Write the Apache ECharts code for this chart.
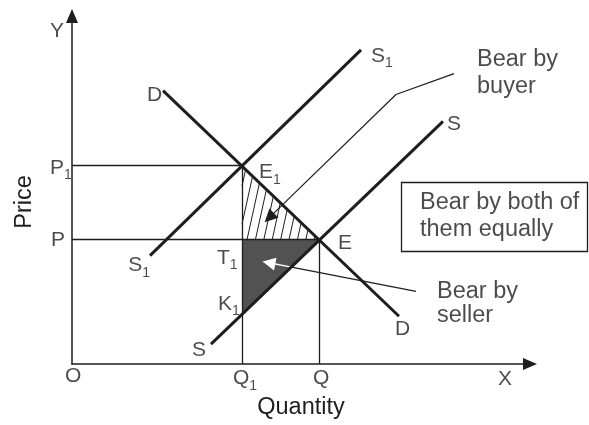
<!DOCTYPE html>
<html>
<head>
<meta charset="utf-8">
<script src="https://cdn.jsdelivr.net/npm/echarts@6/dist/echarts.min.js"></script>
<style>
html, body { margin: 0; padding: 0; background: #fff; }
#main { width: 589px; height: 425px; }
</style>
</head>
<body>
<div id="main"></div>
<script>
// key points (quantity, price)
var ptE1 = [17, 20];
var ptT1 = [17, 12.5];
var ptE = [24.7, 12.5];
var ptK1 = [17, 5.0];

// curves
var curveD = [[9.1, 27.5], [32.7, 4.8]];
var curveS = [[13.9, 2.0], [37.1, 24.4]];
var curveS1 = [[7.8, 10.9], [28.9, 31.6]];

// guides to the axes: P1, P, Q1, Q
var guideLines = [
  [[0, 20], [17, 20]],
  [[0, 12.5], [24.7, 12.5]],
  [[17, 0], [17, 20]],
  [[24.7, 0], [24.7, 12.5]]
];

// leader lines of the notes
var leaderPlain = [
  [[38.2, 29.2], [32.4, 27.1]],
  [[34.4, 7.3], [21.95, 9.74]]
];
var leaderBlackArrow = [[[32.4, 27.1], [19.73, 14.72]]];
var leaderWhiteArrow = [[[21.95, 9.74], [19.69, 10.18]]];

// point names: [x, y, text]
var pointNames = [
  [-2.2, 33.5, '{m|Y}'],
  [7.5, 27.0, '{m|D}'],
  [-2.2, 19.7, '{m|P}{s|1}'],
  [18.7, 19.25, '{m|E}{s|1}'],
  [29.9, 31.0, '{m|S}{s|1}'],
  [37.5, 24.15, '{m|S}'],
  [-2.1, 12.5, '{m|P}'],
  [5.63, 9.9, '{m|S}{s|1}'],
  [14.5, 10.65, '{m|T}{s|1}'],
  [14.6, 6.05, '{m|K}{s|1}'],
  [12.0, 1.35, '{m|S}'],
  [-0.7, -1.25, '{m|O}'],
  [16.1, -1.45, '{m|Q}{s|1}'],
  [24.1, -1.45, '{m|Q}'],
  [42.6, -1.5, '{m|X}'],
  [26.6, 12.1, '{m|E}'],
  [32.3, 3.45, '{m|D}']
];

// notes: [x, y, text]
var noteBuyer = [40.5, 31.95, 'Bear by\nbuyer'];
var noteSeller = [36.5, 8.45, 'Bear by\nseller'];
var noteBoth = [34.8, 17.55, 'Bear by both of\nthem equally'];
// frame of the "both" note: [x0, yTop, x1, yBottom]
var noteBothBox = [32.85, 18.3, 51.5, 11.4];

var FONT = '"Liberation Sans", Arial, Helvetica, sans-serif';
var INK = '#1e1e1e';

function toLines(arr) {
  return arr.map(function (c) { return { coords: c }; });
}

function renderHatch(params, api) {
  var a = api.coord([api.value(0), api.value(1)]);
  var b = api.coord([api.value(2), api.value(3)]);
  var c = api.coord([api.value(4), api.value(5)]);
  var H = b[1] - a[1];
  var k = 0.22, step = 8.4;
  var slope = (c[0] - a[0]) / H;
  var children = [];
  var start = b[0] + 5 - step * Math.ceil((k * H + 5) / step);
  for (var x0 = start; x0 < c[0]; x0 += step) {
    var hLow = x0 >= b[0] ? 0 : (b[0] - x0) / k;
    var hUp = (c[0] - x0) / (k + slope);
    if (hUp <= hLow + 1) continue;
    children.push({
      type: 'line',
      shape: { x1: x0 + k * hLow, y1: b[1] - hLow, x2: x0 + k * hUp, y2: b[1] - hUp },
      style: { stroke: INK, lineWidth: 1 }
    });
  }
  return { type: 'group', children: children };
}

function renderDark(params, api) {
  return {
    type: 'polygon',
    shape: { points: [
      api.coord([api.value(0), api.value(1)]),
      api.coord([api.value(2), api.value(3)]),
      api.coord([api.value(4), api.value(5)])
    ] },
    style: { fill: '#525252' }
  };
}

function renderBox(params, api) {
  var p0 = api.coord([api.value(0), api.value(1)]);
  var p1 = api.coord([api.value(2), api.value(3)]);
  var x0 = Math.round(p0[0]), y0 = Math.round(p0[1]);
  return {
    type: 'rect',
    shape: { x: x0 + 0.5, y: y0 + 0.5, width: Math.round(p1[0]) - x0, height: Math.round(p1[1]) - y0 },
    style: { fill: '#fff', stroke: INK, lineWidth: 1.3 }
  };
}

var myChart = echarts.init(document.getElementById('main'));

var option = {
  backgroundColor: '#fff',
  animation: false,
  grid: { left: 72, right: 59, top: 16, bottom: 59 },
  xAxis: {
    type: 'value', min: 0, max: 45.8,
    name: 'Quantity', nameLocation: 'middle', nameGap: 32,
    nameTextStyle: { fontFamily: FONT, fontSize: 23.5, color: INK },
    axisLine: { lineStyle: { color: INK, width: 1.5 }, symbol: ['none', 'triangle'], symbolSize: [12, 14] },
    axisTick: { show: false }, axisLabel: { show: false }, splitLine: { show: false }
  },
  yAxis: {
    type: 'value', min: 0, max: 35,
    name: 'Price', nameLocation: 'middle', nameGap: 35, nameRotate: 90,
    nameTextStyle: { fontFamily: FONT, fontSize: 23.5, color: INK, padding: [0, 24, 0, 0] },
    axisLine: { lineStyle: { color: INK, width: 1.5 }, symbol: ['none', 'triangle'], symbolSize: [12, 14] },
    axisTick: { show: false }, axisLabel: { show: false }, splitLine: { show: false }
  },
  series: [
    {
      type: 'custom', renderItem: renderDark, silent: true,
      data: [[ptT1[0], ptT1[1], ptE[0], ptE[1], ptK1[0], ptK1[1]]]
    },
    {
      type: 'custom', renderItem: renderHatch, silent: true,
      data: [[ptE1[0], ptE1[1], ptT1[0], ptT1[1], ptE[0], ptE[1]]]
    },
    {
      type: 'lines', coordinateSystem: 'cartesian2d', silent: true,
      lineStyle: { color: INK, width: 1.3, opacity: 1 },
      data: toLines(guideLines)
    },
    {
      type: 'line', data: curveD, symbol: 'none', silent: true,
      lineStyle: { color: INK, width: 3 }
    },
    {
      type: 'line', data: curveS, symbol: 'none', silent: true,
      lineStyle: { color: INK, width: 3 }
    },
    {
      type: 'line', data: curveS1, symbol: 'none', silent: true,
      lineStyle: { color: INK, width: 3 }
    },
    {
      type: 'lines', coordinateSystem: 'cartesian2d', silent: true,
      lineStyle: { color: INK, width: 1.2, opacity: 1 },
      data: toLines(leaderPlain)
    },
    {
      type: 'lines', coordinateSystem: 'cartesian2d', silent: true,
      symbol: ['none', 'triangle'], symbolSize: [8, 13],
      lineStyle: { color: INK, width: 1.2, opacity: 1 },
      data: toLines(leaderBlackArrow)
    },
    {
      type: 'lines', coordinateSystem: 'cartesian2d', silent: true,
      symbol: ['none', 'triangle'], symbolSize: [8, 13],
      lineStyle: { color: '#fff', width: 1.4, opacity: 1 },
      data: toLines(leaderWhiteArrow)
    },
    {
      type: 'custom', renderItem: renderBox, silent: true, clip: false,
      data: [noteBothBox]
    },
    {
      type: 'scatter', symbolSize: 0, silent: true, clip: false,
      data: pointNames,
      label: {
        show: true, position: [0, 0], align: 'left', verticalAlign: 'middle',
        formatter: function (p) { return p.data[2]; },
        rich: {
          m: { fontFamily: FONT, fontSize: 21, lineHeight: 29, color: INK },
          s: { fontFamily: FONT, fontSize: 14, lineHeight: 14, color: INK, verticalAlign: 'bottom' }
        }
      }
    },
    {
      type: 'scatter', symbolSize: 0, silent: true, clip: false,
      data: [
        { value: noteBuyer, label: { lineHeight: 27 } },
        { value: noteSeller, label: { lineHeight: 24 } },
        { value: noteBoth, label: { lineHeight: 27 } }
      ],
      label: {
        show: true, position: [0, 0], align: 'left', verticalAlign: 'top',
        fontFamily: FONT, fontSize: 23.5, color: INK,
        formatter: function (p) { return p.data.value[2]; }
      }
    }
  ]
};

myChart.setOption(option);
</script>
</body>
</html>
